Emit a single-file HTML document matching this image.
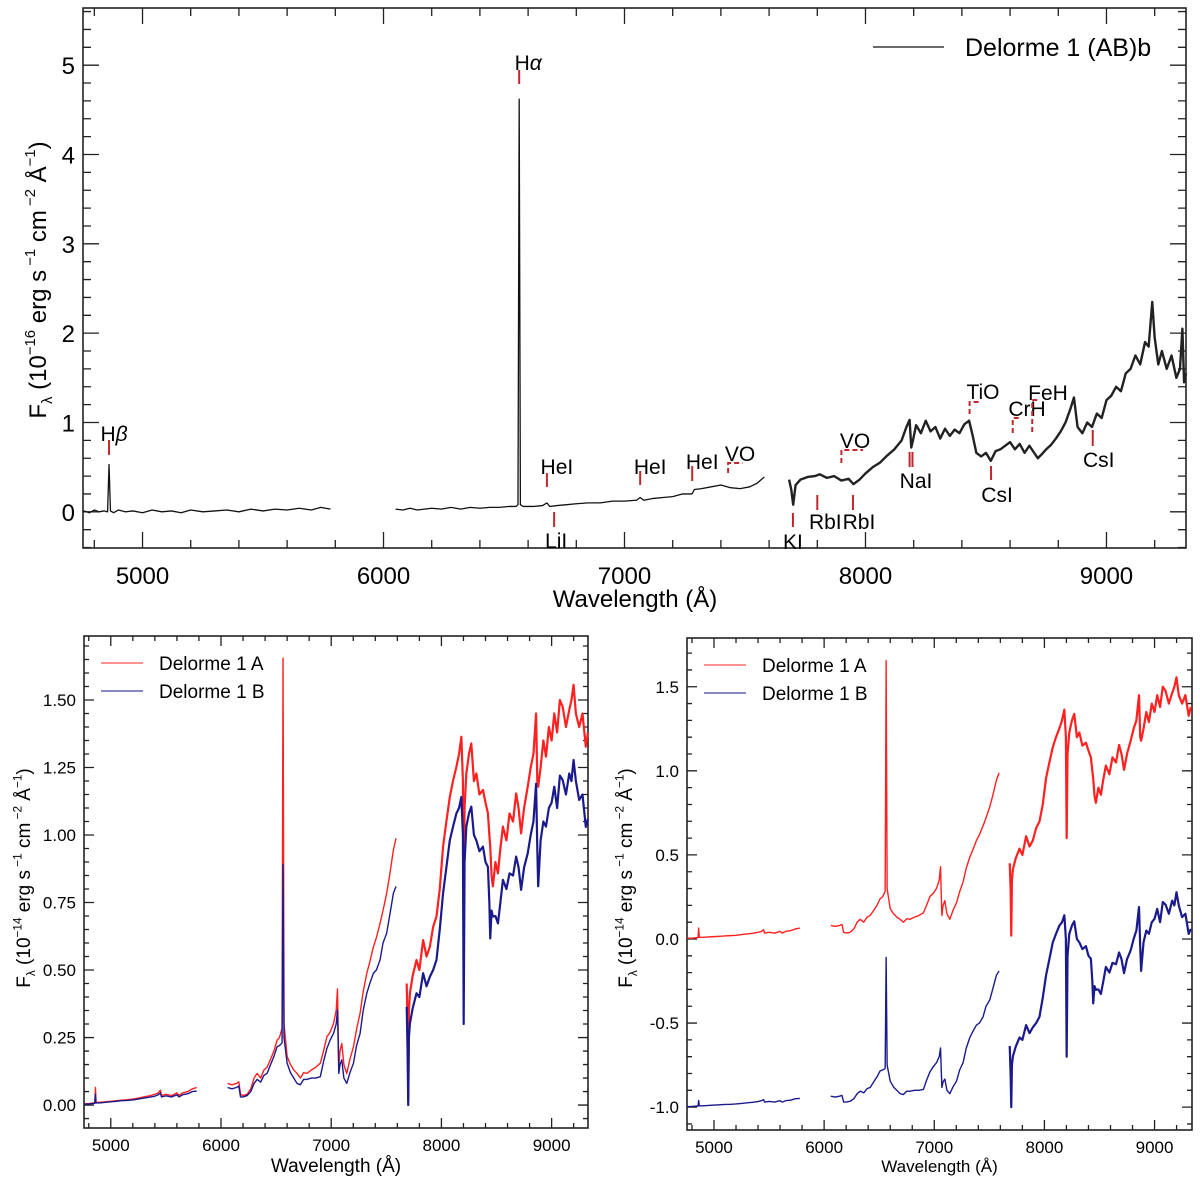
<!DOCTYPE html>
<html><head><meta charset="utf-8"><title>Delorme 1 (AB)b spectra</title>
<style>
html,body{margin:0;padding:0;background:#fff;}
svg{display:block;font-family:"Liberation Sans",Arial,sans-serif;}
</style></head>
<body>
<svg id="fig" xmlns="http://www.w3.org/2000/svg" width="1200" height="1183" viewBox="0 0 1200 1183"></svg>
<script>
// ---------- Top panel data (Delorme 1 (AB)b, 1e-16) ----------
const topWave1 = [4755,4780,4800,4820,4840,4855,4861,4867,4880,4900,4930,4960,5000,5040,5080,5120,5160,5200,5250,5300,5350,5400,5450,5500,5550,5600,5650,5700,5740,5780];
const topFlux1 = [0.01,-0.01,0.02,0.0,0.01,0.0,0.53,0.01,-0.01,0.02,0.0,0.01,-0.01,0.02,0.0,0.01,-0.01,0.02,0.0,0.01,0.02,0.0,0.03,0.01,0.03,0.02,0.04,0.02,0.05,0.03];
const topWave2 = [6050,6080,6110,6140,6170,6200,6240,6280,6320,6360,6400,6440,6480,6520,6550,6558,6563,6568,6580,6620,6660,6678,6690,6720,6760,6800,6850,6900,6950,7000,7050,7065,7080,7120,7160,7200,7240,7280,7290,7320,7360,7400,7440,7480,7520,7550,7580];
const topFlux2 = [0.03,0.02,0.04,0.02,0.03,0.04,0.03,0.05,0.03,0.05,0.04,0.05,0.05,0.06,0.06,0.08,4.62,0.08,0.06,0.06,0.07,0.1,0.06,0.07,0.08,0.09,0.1,0.1,0.12,0.12,0.13,0.16,0.13,0.15,0.16,0.17,0.2,0.2,0.25,0.26,0.28,0.3,0.27,0.26,0.28,0.32,0.39];
const topWave3 = [7683,7692,7700,7710,7730,7760,7790,7810,7840,7870,7900,7930,7950,7975,8000,8030,8060,8090,8120,8150,8170,8183,8190,8197,8210,8230,8250,8270,8290,8310,8330,8350,8370,8390,8410,8430,8445,8460,8480,8500,8520,8540,8560,8580,8600,8620,8640,8660,8680,8700,8715,8730,8750,8770,8790,8810,8830,8850,8865,8880,8900,8920,8940,8960,8980,9000,9020,9040,9060,9080,9100,9120,9140,9160,9175,9190,9200,9215,9230,9250,9270,9290,9305,9315,9322,9330];
const topFlux3 = [0.36,0.25,0.08,0.3,0.36,0.39,0.4,0.42,0.38,0.4,0.35,0.37,0.31,0.36,0.43,0.5,0.55,0.63,0.7,0.8,0.95,1.03,0.72,0.8,0.97,0.88,1.02,0.9,0.95,0.82,0.93,0.85,0.92,0.88,0.98,1.02,0.85,0.66,0.62,0.66,0.57,0.68,0.7,0.74,0.78,0.7,0.76,0.66,0.74,0.66,0.6,0.64,0.7,0.75,0.82,0.9,1.0,1.15,1.28,0.95,0.88,1.0,0.95,1.1,1.05,1.25,1.3,1.4,1.35,1.55,1.6,1.75,1.65,1.9,1.85,2.35,1.95,1.65,1.8,1.6,1.75,1.5,1.6,2.05,1.45,1.55];

// ---------- Bottom panels data (Delorme 1 A / B, 1e-14) ----------
const botWave1 = [4757,4800,4840,4855,4861,4866,4900,4950,5000,5050,5100,5150,5200,5250,5300,5350,5400,5430,5450,5460,5500,5550,5600,5620,5650,5700,5740,5780];
const fluxA1 = [0.005,0.005,0.008,0.008,0.065,0.01,0.01,0.012,0.014,0.016,0.018,0.02,0.022,0.026,0.03,0.034,0.04,0.045,0.055,0.035,0.04,0.035,0.045,0.035,0.045,0.05,0.06,0.065];
const fluxB1 = [0.003,0.004,0.006,0.006,0.04,0.008,0.008,0.01,0.012,0.014,0.016,0.017,0.019,0.022,0.026,0.029,0.033,0.038,0.045,0.03,0.034,0.03,0.038,0.03,0.038,0.042,0.05,0.052];
const botWave2 = [6060,6100,6140,6162,6177,6200,6237,6270,6300,6328,6360,6390,6418,6450,6480,6509,6530,6554,6563,6572,6600,6630,6660,6690,6720,6750,6780,6820,6860,6901,6930,6961,6990,7021,7045,7057,7062,7069,7080,7096,7115,7141,7170,7202,7230,7262,7290,7323,7350,7383,7410,7443,7470,7503,7530,7564,7588];
const fluxA2 = [0.08,0.075,0.08,0.086,0.04,0.035,0.04,0.06,0.1,0.117,0.1,0.13,0.14,0.17,0.2,0.24,0.25,0.283,1.655,0.3,0.18,0.15,0.13,0.117,0.1,0.12,0.117,0.13,0.14,0.155,0.2,0.253,0.27,0.302,0.35,0.43,0.3,0.14,0.2,0.228,0.15,0.117,0.17,0.216,0.28,0.34,0.42,0.488,0.53,0.586,0.62,0.673,0.72,0.784,0.85,0.944,0.988];
const fluxB2 = [0.065,0.06,0.065,0.07,0.03,0.03,0.035,0.05,0.08,0.095,0.085,0.11,0.117,0.15,0.18,0.216,0.22,0.23,0.89,0.25,0.155,0.12,0.1,0.08,0.075,0.095,0.095,0.1,0.1,0.105,0.16,0.21,0.24,0.265,0.3,0.352,0.25,0.117,0.15,0.167,0.1,0.08,0.12,0.155,0.22,0.265,0.35,0.414,0.45,0.488,0.5,0.537,0.6,0.636,0.7,0.784,0.81];
const botWave3 = [7685,7693,7699,7705,7714,7740,7774,7800,7834,7865,7895,7925,7955,7985,8015,8045,8076,8105,8136,8160,8181,8195,8202,8210,8226,8250,8271,8295,8317,8345,8377,8400,8422,8435,8443,8455,8467,8490,8513,8535,8558,8590,8618,8650,8678,8700,8723,8750,8783,8810,8835,8859,8870,8878,8900,8925,8949,8975,9000,9024,9050,9075,9100,9130,9160,9180,9199,9220,9250,9280,9310,9330];
const fluxA3 = [0.45,0.3,0.02,0.35,0.414,0.48,0.537,0.5,0.611,0.55,0.586,0.66,0.698,0.8,0.957,1.05,1.14,1.2,1.253,1.3,1.364,1.2,0.6,1.1,1.228,1.3,1.339,1.2,1.228,1.15,1.167,1.12,1.08,1.0,0.957,0.85,0.81,0.9,0.858,0.95,1.031,0.98,1.08,1.05,1.154,1.1,1.006,1.1,1.179,1.25,1.3,1.45,1.2,1.179,1.25,1.35,1.29,1.4,1.35,1.45,1.38,1.5,1.475,1.4,1.463,1.5,1.556,1.45,1.4,1.45,1.327,1.38];
const fluxB3 = [0.364,0.2,0.0,0.25,0.302,0.36,0.414,0.4,0.488,0.44,0.475,0.5,0.537,0.65,0.784,0.88,0.98,1.03,1.08,1.1,1.141,1.0,0.3,0.9,1.031,1.08,1.105,1.0,0.98,0.94,0.957,0.9,0.882,0.75,0.617,0.72,0.698,0.7,0.673,0.75,0.834,0.8,0.858,0.85,0.92,0.88,0.797,0.88,0.932,1.0,1.05,1.19,0.95,0.81,0.98,1.05,1.031,1.1,1.12,1.179,1.1,1.22,1.204,1.15,1.228,1.2,1.278,1.2,1.13,1.15,1.03,1.06];
const offsetB = -1.0;

// ---------- Tick labels ----------
const xTickLabels = ["5000","6000","7000","8000","9000"];
const topYTickLabels = ["0","1","2","3","4","5"];
const leftYTickLabels = ["0.00","0.25","0.50","0.75","1.00","1.25","1.50"];
const rightYTickLabels = ["-1.0","-0.5","0.0","0.5","1.0","1.5"];

// ---------- Line identifications (top panel) ----------
const lineNames = ["Hβ","Hα","HeI","LiI","HeI","HeI","KI","RbI","RbI","CsI","CsI"];
const lineWaves = [4861,6563,6678,6708,7065,7281,7699,7800,7948,8521,8943];

const NS = "http://www.w3.org/2000/svg";
const svg = document.getElementById("fig");
function mk(tag, attrs, parent){
  const e = document.createElementNS(NS, tag);
  for (const k in attrs) e.setAttribute(k, attrs[k]);
  (parent || svg).appendChild(e);
  return e;
}
function makeAxes(x0,x1,y0,y1,wMin,wMax,fMin,fMax){
  return {
    x: w => x0 + (w - wMin) / (wMax - wMin) * (x1 - x0),
    y: f => y1 - (f - fMin) / (fMax - fMin) * (y1 - y0),
    x0, x1, y0, y1
  };
}
function pathFrom(ax, ws, fs, off){
  let d = "";
  const n = Math.min(ws.length, fs.length);
  for (let i = 0; i < n; i++){
    d += (i ? "L" : "M") + ax.x(ws[i]).toFixed(2) + "," + ax.y(fs[i] + off).toFixed(2);
  }
  return d;
}
function frameAndTicks(g, ax, xMajor, xMinor, yMin, yMax, yMajor, yMinor, majLen, minLen, wMin, wMax){
  mk("rect",{x:ax.x0,y:ax.y0,width:ax.x1-ax.x0,height:ax.y1-ax.y0,fill:"none",stroke:"#222","stroke-width":1.6},g);
  let d = "";
  for (let w = Math.ceil(wMin/xMinor)*xMinor; w <= wMax; w += xMinor){
    const L = (Math.abs(w % xMajor) < 1e-6) ? majLen : minLen;
    const px = ax.x(w);
    d += `M${px},${ax.y1}v${-L}M${px},${ax.y0}v${L}`;
  }
  const startF = Math.ceil(yMin/yMinor - 1e-6)*yMinor;
  for (let i = 0; startF + i*yMinor <= yMax + 1e-9; i++){
    const f = startF + i*yMinor;
    const r = f / yMajor;
    const L = Math.abs(r - Math.round(r)) < 1e-6 ? majLen : minLen;
    const py = ax.y(f);
    d += `M${ax.x0},${py}h${L}M${ax.x1},${py}h${-L}`;
  }
  mk("path",{d:d,stroke:"#222","stroke-width":1.3,fill:"none"},g);
}

// ================= TOP PANEL =================
const topG = mk("g",{});


const tax = makeAxes(83,1186,8,548,4753,9330,-0.405,5.64);
frameAndTicks(topG, tax, 1000, 200, -0.4, 5.6, 1, 0.2, 16, 8, 4753, 9330);
xTickLabels.forEach((t,i)=>{
  const w = 5000 + i*1000;
  const e = mk("text",{x:tax.x(w),y:584,"font-size":24,"text-anchor":"middle",fill:"#000"},topG);
  e.textContent = t;
  
  
});
topYTickLabels.forEach((t,i)=>{
  const e = mk("text",{x:75,y:tax.y(i)+9,"font-size":24,"text-anchor":"end",fill:"#000"},topG);
  e.textContent = t;
  
  
});
const tXT = mk("text",{x:635,y:607,"font-size":24,"text-anchor":"middle"},topG);
tXT.textContent = "Wavelength (Å)";



function yTitle(g, cx, cy, size, exp, name){
  const t = mk("text",{transform:`translate(${cx},${cy}) rotate(-90)`,"font-size":size,"text-anchor":"middle"},g);
  
  
  const s = size*0.62;
  t.innerHTML = `F<tspan font-size="${s}" dy="${size*0.25}">λ</tspan><tspan dy="${-size*0.25}"> (10</tspan><tspan font-size="${s}" dy="${-size*0.45}">${exp}</tspan><tspan dy="${size*0.45}"> erg s</tspan><tspan font-size="${s}" dy="${-size*0.45}"> −1</tspan><tspan dy="${size*0.45}"> cm</tspan><tspan font-size="${s}" dy="${-size*0.45}"> −2</tspan><tspan dy="${size*0.45}"> Å</tspan><tspan font-size="${s}" dy="${-size*0.45}">−1</tspan><tspan dy="${size*0.45}">)</tspan>`;
}
yTitle(topG, 46, 280, 24, "−16", "top-y-axis-title");

const topLine = mk("path",{d:pathFrom(tax,topWave1,topFlux1,0)+pathFrom(tax,topWave2,topFlux2,0),fill:"none",stroke:"#111","stroke-width":1.3,"stroke-linejoin":"round"},topG);


const topLine3 = mk("path",{d:pathFrom(tax,topWave3,topFlux3,0),fill:"none",stroke:"#222","stroke-width":2.4,"stroke-linejoin":"round"},topG);



// legend
const tl = mk("line",{x1:873,y1:47,x2:944,y2:47,stroke:"#111","stroke-width":1.2},topG);


const tlt = mk("text",{x:965,y:56,"font-size":25},topG);
tlt.textContent = "Delorme 1 (AB)b";



// line identification marks
const markTop = [440,70,473,512,471,466,513,495,495,466,430];
const markBot = [455,84,487,527,485,481,527,510,510,480,446];
const labX = [5,9,10,2,10,10,0,8,6,6,6];
const labY = [441,70,474,548,474,469,549,529,529,502,467];
lineNames.forEach((nm,i)=>{
  const px = tax.x(lineWaves[i]);
  const m = mk("line",{x1:px,y1:markTop[i],x2:px,y2:markBot[i],stroke:"#c0282d","stroke-width":2},topG);
  
  
  const t = mk("text",{x:px+labX[i],y:labY[i],"font-size":21,"text-anchor":"middle"},topG);
  if (nm === "Hβ" || nm === "Hα"){
    t.innerHTML = `H<tspan font-style="italic">${nm.slice(1)}</tspan>`;
  } else t.textContent = nm;
  
  
});
[8183,8195].forEach(w=>{
  const px = tax.x(w);
  const m = mk("line",{x1:px,y1:452,x2:px,y2:467,stroke:"#c0282d","stroke-width":2},topG);
  
  
});
const naT = mk("text",{x:916,y:488,"font-size":21,"text-anchor":"middle"},topG);
naT.textContent = "NaI";


const bandNames = ["VO","VO","TiO","CrH","FeH"];
const bandW0 = [7430,7900,8432,8611,8692];
const bandW1 = [7490,7990,8480,8645,8720];
const bandYh = [463,450,402,418,400];
const bandYv = [473,463,414,433,432];
const bandLx = [740,855,983,1027,1048];
const bandLy = [461,448,399,416,400];
bandNames.forEach((nm,i)=>{
  const a = tax.x(bandW0[i]), b = tax.x(bandW1[i]);
  const p = mk("path",{d:`M${a},${bandYv[i]}V${bandYh[i]}H${b}`,fill:"none",stroke:"#c0282d","stroke-width":2,"stroke-dasharray":"5,3"},topG);
  
  
  const t = mk("text",{x:bandLx[i],y:bandLy[i],"font-size":21,"text-anchor":"middle"},topG);
  t.textContent = nm;
  
  
});

// ================= BOTTOM PANELS =================
function bottomPanel(name, ax, yMin, yMax, yMajor, yMinor, yLabels, yLabelStart, offB, legX, xTitleY, xTitleSize, titleX){
  const g = mk("g",{});
  
  
  frameAndTicks(g, ax, 1000, 200, yMin, yMax, yMajor, yMinor, 10, 5, 4757, 9330);
  xTickLabels.forEach((t,i)=>{
    const e = mk("text",{x:ax.x(5000+i*1000),y:ax.y1+23,"font-size":17,"text-anchor":"middle"},g);
    e.textContent = t;
    
    
  });
  yLabels.forEach((t,i)=>{
    const e = mk("text",{x:ax.x0-8,y:ax.y(yLabelStart+i*yMajor)+6,"font-size":17,"text-anchor":"end"},g);
    e.textContent = t;
    
    
  });
  const xt = mk("text",{x:(ax.x0+ax.x1)/2,y:xTitleY,"font-size":xTitleSize,"text-anchor":"middle"},g);
  xt.textContent = "Wavelength (Å)";
  
  
  yTitle(g, titleX, 878, 19, "−14", "y-axis-title");
  const pa = mk("path",{d:pathFrom(ax,botWave1,fluxA1,0)+pathFrom(ax,botWave2,fluxA2,0),fill:"none",stroke:"#ff2020","stroke-width":1.4,"stroke-linejoin":"round"},g);
  
  
  const pa3 = mk("path",{d:pathFrom(ax,botWave3,fluxA3,0),fill:"none",stroke:"#ff2020","stroke-width":2.2,"stroke-linejoin":"round"},g);
  
  
  const pb = mk("path",{d:pathFrom(ax,botWave1,fluxB1,offB)+pathFrom(ax,botWave2,fluxB2,offB),fill:"none",stroke:"#1a1a8c","stroke-width":1.4,"stroke-linejoin":"round"},g);
  
  
  const pb3 = mk("path",{d:pathFrom(ax,botWave3,fluxB3,offB),fill:"none",stroke:"#1a1a8c","stroke-width":2.2,"stroke-linejoin":"round"},g);
  
  
  const la = mk("line",{x1:legX,y1:ax.y0+27,x2:legX+42,y2:ax.y0+27,stroke:"#ff5050","stroke-width":1.2},g);
  
  
  const lb = mk("line",{x1:legX,y1:ax.y0+55,x2:legX+42,y2:ax.y0+55,stroke:"#4040a0","stroke-width":1.2},g);
  
  
  const ta = mk("text",{x:legX+58,y:ax.y0+34,"font-size":19},g);
  ta.textContent = "Delorme 1 A";
  
  
  const tb = mk("text",{x:legX+58,y:ax.y0+62,"font-size":19},g);
  tb.textContent = "Delorme 1 B";
  
  
}
const lax = makeAxes(84,588,636,1128,4757,9330,-0.085,1.737);
bottomPanel("bottom-left-panel", lax, -0.05, 1.7, 0.25, 0.05, leftYTickLabels, 0, 0, 101, 1172, 19, 30);
const rax = makeAxes(687,1192,638,1130,4755,9340,-1.136,1.79);
bottomPanel("bottom-right-panel", rax, -1.1, 1.75, 0.5, 0.1, rightYTickLabels, -1.0, offsetB, 704, 1172, 17, 632);
</script>
</body></html>
